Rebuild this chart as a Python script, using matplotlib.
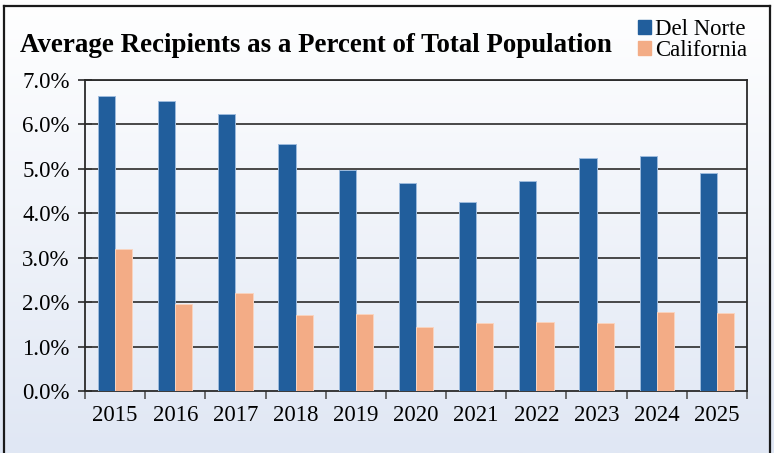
import numpy as np
import matplotlib
matplotlib.use("Agg")
import matplotlib.pyplot as plt
from matplotlib.patches import Rectangle

# Data
years = ["2015", "2016", "2017", "2018", "2019", "2020", "2021", "2022", "2023", "2024", "2025"]
del_norte = [6.65, 6.52, 6.23, 5.55, 4.98, 4.69, 4.26, 4.72, 5.25, 5.28, 4.92]
california = [3.20, 1.97, 2.21, 1.72, 1.73, 1.45, 1.54, 1.55, 1.54, 1.79, 1.77]
y_ticks = [0, 1, 2, 3, 4, 5, 6, 7]
series_names = ["Del Norte", "California"]

plt.rcParams["font.family"] = ["Liberation Serif", "DejaVu Serif"]

W, H = 774, 453
fig = plt.figure(figsize=(W / 100, H / 100), dpi=100)

# Background gradient (white at top fading to pale blue)
bg = fig.add_axes([0, 0, 1, 1], zorder=-10)
grad = np.linspace(0, 1, 256).reshape(-1, 1)
top = np.array([1.0, 1.0, 1.0])
bot = np.array([0xE0, 0xE7, 0xF4]) / 255
img = top + (bot - top) * grad[..., None]
bg.imshow(img, aspect="auto", extent=[0, 1, 0, 1], origin="upper")
bg.set_xlim(0, 1)
bg.set_ylim(0, 1)
bg.axis("off")

# Outer frame (left, top, right)
frame_kw = dict(color="#1a1a1a", lw=1.6, transform=fig.transFigure)
fig.add_artist(plt.Line2D([4 / W, 4 / W], [0, 1 - 6 / H], **frame_kw))
fig.add_artist(plt.Line2D([4 / W, 770 / W], [1 - 6 / H, 1 - 6 / H], **frame_kw))
fig.add_artist(plt.Line2D([770 / W, 770 / W], [0, 1 - 6 / H], **frame_kw))

ax = fig.add_axes([85 / W, (H - 391.3) / H, (747 - 85) / W, (391.3 - 80) / H])
ax.set_facecolor("none")

x = np.arange(len(years))
bw = 0.286
c_dn = "#215E9C"
c_ca = "#F3AC86"
ax.bar(x - bw / 2, del_norte, bw, color=c_dn, edgecolor="#9DBBDD", linewidth=0.7, zorder=3)
ax.bar(x + bw / 2, california, bw, color=c_ca, edgecolor="#F9D4C0", linewidth=0.7, zorder=3)

ax.set_xlim(-0.5, len(years) - 0.5)
ax.set_ylim(0, 7)

# Y axis
ax.set_yticks(y_ticks)
ax.set_yticklabels([f"{v:.1f}%" for v in y_ticks])
ax.tick_params(axis="y", direction="inout", length=10, width=1.2, color="#2a2a2a",
               labelsize=16.5, pad=6)
for v in y_ticks[1:]:
    ax.axhline(v, color="#3a3a3a", lw=1.3, zorder=2)

# X axis: ticks on category boundaries, labels centered
ax.set_xticks(np.arange(-0.5, len(years), 1.0))
ax.set_xticklabels([])
ax.set_xticks(x, minor=True)
ax.set_xticklabels(years, minor=True)
ax.tick_params(axis="x", which="major", direction="out", length=6, width=1.2, color="#555555")
ax.tick_params(axis="x", which="minor", length=0, labelsize=16.5, pad=10)

for s in ["left", "right", "top", "bottom"]:
    ax.spines[s].set_color("#2a2a2a")
    ax.spines[s].set_linewidth(1.3)

# Title
fig.text(20 / W, 1 - 45 / H, "Average Recipients as a Percent of Total Population",
         fontsize=19.4, fontweight="bold", va="center", ha="left", color="black")

# Legend
handles = [Rectangle((0, 0), 1, 1, color=c_dn), Rectangle((0, 0), 1, 1, color=c_ca)]
fig.legend(handles, series_names, loc="upper left", bbox_to_anchor=(638 / W, 1 - 19 / H),
           frameon=False, fontsize=16.4, handlelength=0.55, handleheight=0.55,
           handletextpad=0.2, labelspacing=0.0, borderpad=0, borderaxespad=0)

fig.savefig("out.png", dpi=100)
